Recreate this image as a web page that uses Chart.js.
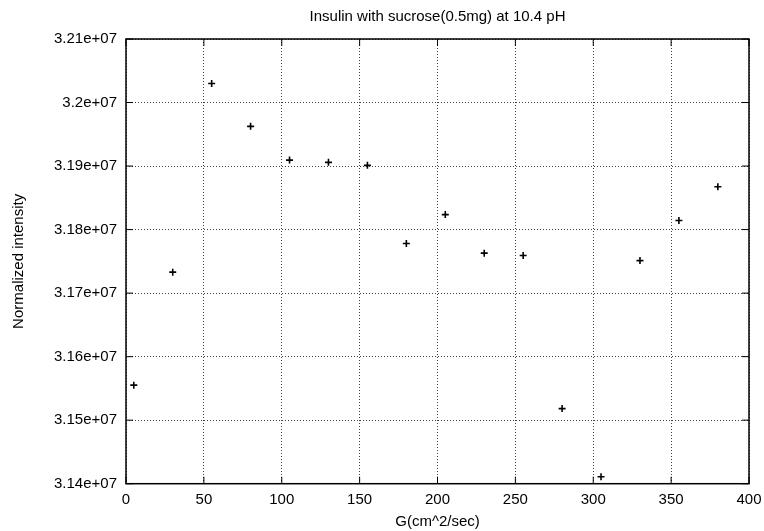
<!DOCTYPE html>
<html>
<head>
<meta charset="utf-8">
<script src="https://cdn.jsdelivr.net/npm/chart.js@4/dist/chart.umd.min.js"></script>
<style>
  body { margin: 0; background: #fff; }
  #chartCanvasId { display: block; }
</style>
</head>
<body>
<canvas id="chartCanvasId" width="764" height="531"></canvas>
<script>
// G values (cm^2/sec) and normalized intensity
const gValues = [5, 30, 55, 80, 105, 130, 155, 180, 205, 230, 255, 280, 305, 330, 355, 380];
const intensity = [31555100, 31733000, 32030000, 31962500, 31909400, 31905800, 31901100, 31778000,
                   31823600, 31762900, 31759100, 31518200, 31411000, 31751200, 31814200, 31867400];

const chartTitle = "Insulin with sucrose(0.5mg) at 10.4 pH";
const xTitle = "G(cm^2/sec)";
const yTitle = "Normalized intensity";

const fontFamily = "'Liberation Sans', Arial, Helvetica, sans-serif";

Chart.defaults.color = "#000";
Chart.defaults.font.family = fontFamily;
Chart.defaults.font.size = 15;

// frame round the plot area plus small inward tick marks (gnuplot style)
const framePlugin = {
    id: "frame",
    afterDraw(chart) {
        const ctx = chart.ctx;
        const a = chart.chartArea;
        const xs = chart.scales.x;
        const ys = chart.scales.y;
        const len = 7;
        ctx.save();
        ctx.strokeStyle = "#000";
        ctx.lineWidth = 1;
        ctx.beginPath();
        xs.ticks.forEach(t => {
            const px = xs.getPixelForValue(t.value);
            ctx.moveTo(px, a.bottom);
            ctx.lineTo(px, a.bottom - len);
            ctx.moveTo(px, a.top);
            ctx.lineTo(px, a.top + len);
        });
        ys.ticks.forEach(t => {
            const py = ys.getPixelForValue(t.value);
            ctx.moveTo(a.left, py);
            ctx.lineTo(a.left + len, py);
            ctx.moveTo(a.right, py);
            ctx.lineTo(a.right - len, py);
        });
        ctx.stroke();
        ctx.lineWidth = 1.5;
        ctx.strokeRect(a.left, a.top, a.right - a.left, a.bottom - a.top);
        ctx.restore();
    }
};

function init() {
    const chartCanvas = document.getElementById("chartCanvasId");
    const points = gValues.map((g, i) => ({ x: g, y: intensity[i] }));

    new Chart(chartCanvas, {
        type: "scatter",
        data: {
            datasets: [{
                data: points,
                pointStyle: "cross",
                radius: 3.5,
                borderWidth: 1.6,
                borderColor: "#000",
                backgroundColor: "#000"
            }]
        },
        options: {
            responsive: false,
            animation: false,
            layout: { padding: { left: 0, right: 15, top: 0, bottom: 0 } },
            plugins: {
                legend: { display: false },
                tooltip: { enabled: false },
                title: {
                    display: true,
                    fullSize: false,
                    text: chartTitle,
                    font: { size: 15, weight: "normal" },
                    padding: { top: 8, bottom: 13 }
                }
            },
            scales: {
                x: {
                    type: "linear",
                    min: 0,
                    max: 400,
                    ticks: { stepSize: 50, padding: 7, maxRotation: 0 },
                    grid: {
                        color: "rgba(0,0,0,0.75)",
                        drawTicks: false
                    },
                    border: { display: false, dash: [1, 2] },
                    title: { display: true, text: xTitle, padding: { top: 0, bottom: 0 } },
                    afterFit(scale) {
                        scale.height = 47.3;
                        scale.paddingLeft = 0;
                        scale.paddingRight = 0;
                    }
                },
                y: {
                    type: "linear",
                    min: 31400000,
                    max: 32100000,
                    ticks: {
                        stepSize: 100000,
                        padding: 9,
                        callback: v => (v / 1e7).toFixed(2).replace(/0+$/, "").replace(/\.$/, "") + "e+07"
                    },
                    grid: {
                        color: "rgba(0,0,0,0.75)",
                        drawTicks: false
                    },
                    border: { display: false, dash: [1, 2] },
                    title: { display: true, text: yTitle, padding: { top: 10, bottom: 0 } },
                    afterFit(scale) {
                        scale.width = 126;
                        scale.paddingTop = 0;
                        scale.paddingBottom = 0;
                    }
                }
            }
        },
        plugins: [framePlugin]
    });
}

window.addEventListener("DOMContentLoaded", init);
</script>
</body>
</html>
